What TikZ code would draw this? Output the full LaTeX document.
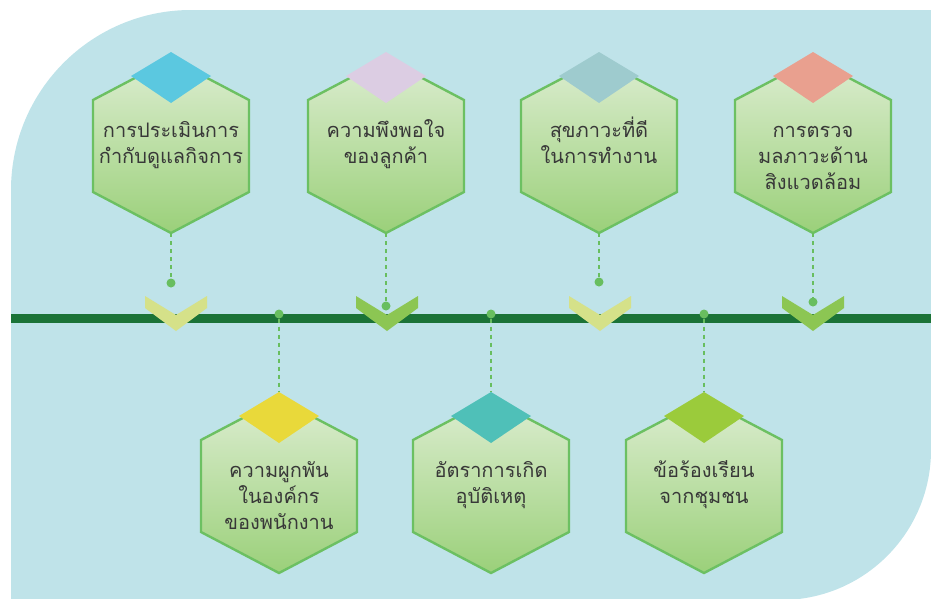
\documentclass[tikz,border=0pt]{standalone}
\usepackage{fontspec}
\newfontfamily\thaifont[Script=Thai]{Loma}
\definecolor{bg}{HTML}{BFE3E9}
\definecolor{linegreen}{HTML}{1B7337}
\definecolor{hexborder}{HTML}{6CC062}
\definecolor{hextop}{HTML}{DCEDD0}
\definecolor{hexbot}{HTML}{9BD07A}
\definecolor{dotgreen}{HTML}{68BE5F}
\definecolor{chevlight}{HTML}{D5E189}
\definecolor{chevdark}{HTML}{8CC653}
\definecolor{txt}{HTML}{383838}
\definecolor{dmA}{HTML}{5BC8E0}
\definecolor{dmB}{HTML}{DCCDE3}
\definecolor{dmC}{HTML}{9ECBCE}
\definecolor{dmD}{HTML}{E9A08F}
\definecolor{dmE}{HTML}{E9D93A}
\definecolor{dmF}{HTML}{4FC0B8}
\definecolor{dmG}{HTML}{9BCB3B}
\tikzset{
  hexshape/.style={draw=hexborder, line width=2.4pt, top color=hextop, bottom color=hexbot, line join=miter},
  hextext/.style={anchor=north, align=center, inner sep=0pt, text=txt, font=\thaifont\fontsize{20}{26}\selectfont},
  dotnode/.style={circle, fill=dotgreen, inner sep=0pt, minimum size=9pt},
  dashconn/.style={draw=dotgreen, line width=2.3pt, dash pattern=on 4pt off 4pt},
}
\newcommand\hexitem[5]{%
  \begin{scope}[shift={(#2,#3)}]
    \path[hexshape] (0,-87) -- (78,-46) -- (78,46) -- (0,87) -- (-78,46) -- (-78,-46) -- cycle;
    \fill[#4] (0,-94) -- (40,-70) -- (0,-43) -- (-40,-70) -- cycle;
    \node[hextext] (#1) at (0,-31) {\rule{0pt}{22pt}#5};
    \coordinate (#1top) at (0,-94);
    \coordinate (#1bot) at (0,87);
  \end{scope}}
\newcommand\chevron[3]{%
  \fill[#3] (#1-31,296) -- (#1,315) -- (#1+31,296) -- (#1+31,308) -- (#1,331) -- (#1-31,308) -- cycle;
  \coordinate (#2) at (#1,313);}
\begin{document}
\begin{tikzpicture}[x=1pt,y=-1pt]
\useasboundingbox (0,0) rectangle (931,598);
\fill[bg] (11,600) -- (11,190) arc[start angle=180, end angle=90, radius=180pt]
  -- (931,10) -- (931,450) arc[start angle=0, end angle=-90, radius=150pt] -- cycle;
% timeline
\coordinate (lineL) at (11,318);
\coordinate (lineR) at (931,318);
\draw[linegreen, line width=9pt] (lineL) -- (lineR);
% chevrons
\chevron{176}{c1}{chevlight}
\chevron{387}{c2}{chevdark}
\chevron{600}{c3}{chevlight}
\chevron{813}{c4}{chevdark}
% top hexagons
\hexitem{h1}{171}{146}{dmA}{การประเมินการ\\กำกับดูแลกิจการ}
\hexitem{h2}{386}{146}{dmB}{ความพึงพอใจ\\ของลูกค้า}
\hexitem{h3}{599}{146}{dmC}{สุขภาวะที่ดี\\ในการทำงาน}
\hexitem{h4}{813}{146}{dmD}{การตรวจ\\มลภาวะด้าน\\สิงแวดล้อม}
% bottom hexagons
\hexitem{h5}{279}{486}{dmE}{ความผูกพัน\\ในองค์กร\\ของพนักงาน}
\hexitem{h6}{491}{486}{dmF}{อัตราการเกิด\\อุบัติเหตุ}
\hexitem{h7}{704}{486}{dmG}{ข้อร้องเรียน\\จากชุมชน}
% dots
\node[dotnode] (d1) at (171,283) {};
\node[dotnode] (d2) at (386,306) {};
\node[dotnode] (d3) at (599,282) {};
\node[dotnode] (d4) at (813,302) {};
\node[dotnode] (d5) at (279,314) {};
\node[dotnode] (d6) at (491,314) {};
\node[dotnode] (d7) at (704,314) {};
% connectors
\draw[dashconn] (h1bot) -- (d1);
\draw[dashconn] (h2bot) -- (d2);
\draw[dashconn] (h3bot) -- (d3);
\draw[dashconn] (h4bot) -- (d4);
\draw[dashconn] (d5) -- (h5top);
\draw[dashconn] (d6) -- (h6top);
\draw[dashconn] (d7) -- (h7top);
\end{tikzpicture}
\end{document}
